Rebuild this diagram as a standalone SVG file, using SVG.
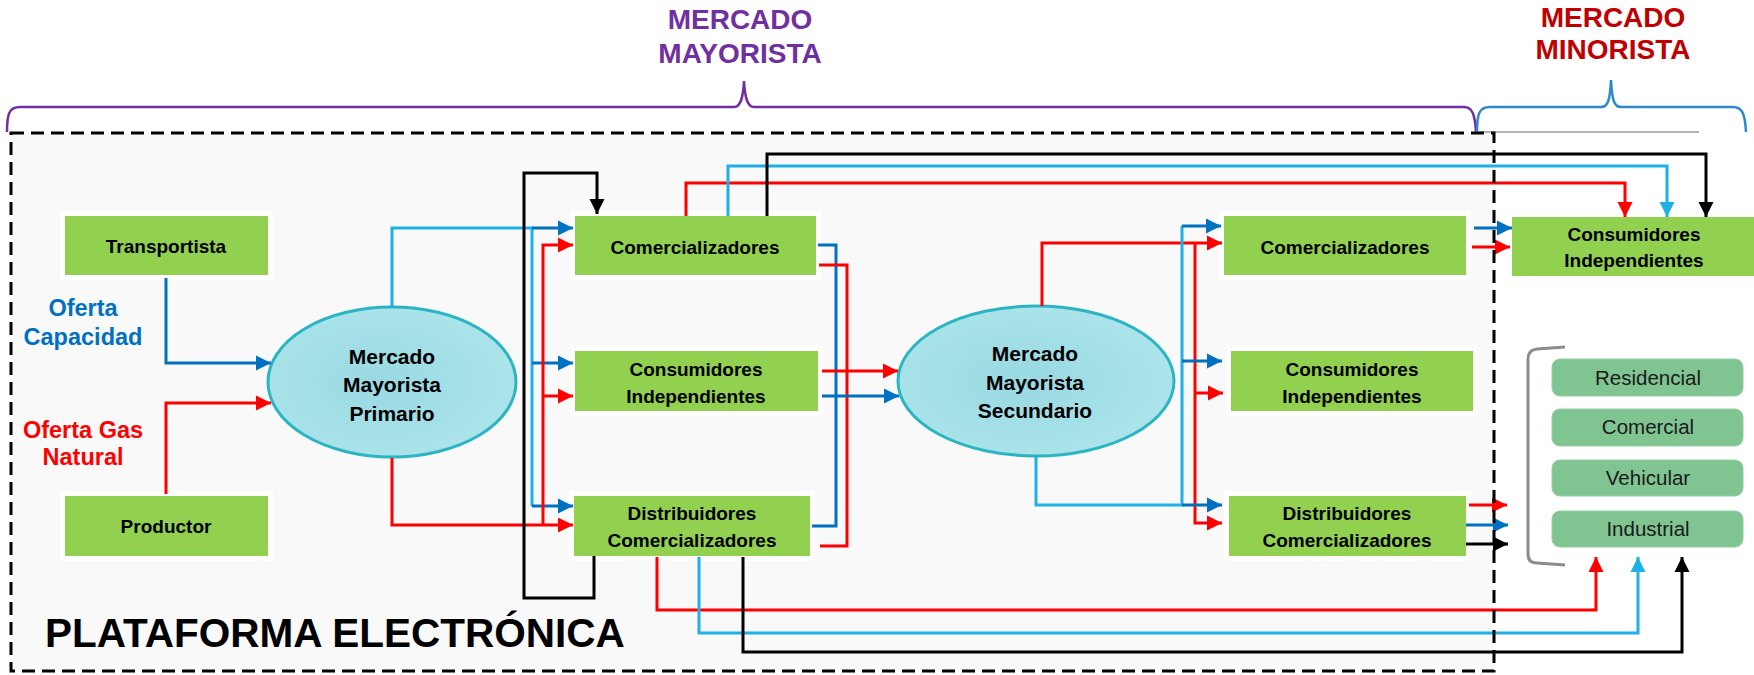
<svg xmlns="http://www.w3.org/2000/svg" width="1754" height="675" viewBox="0 0 1754 675">
<style>
.halo{fill:#ffffff}
.box{fill:#92D050}
.lbl{font-family:"Liberation Sans",Arial,sans-serif;font-weight:bold;font-size:19px;fill:#000;text-anchor:middle}
.elbl{font-size:21px}
.ell{fill:url(#eg);stroke:#2BB5C2;stroke-width:3}
.seg{fill:#7FC491;stroke:#93CFA2;stroke-width:1}
.slbl{font-family:"Liberation Sans",Arial,sans-serif;font-size:20.5px;fill:#1a1a1a;text-anchor:middle}
.c{fill:none;stroke-width:3}
.B{stroke:#0070C0}.L{stroke:#1FB0E6}.R{stroke:#FF0000}.K{stroke:#000000}
.title{font-family:"Liberation Sans",Arial,sans-serif;font-weight:bold;font-size:28px;text-anchor:middle}
.of{font-family:"Liberation Sans",Arial,sans-serif;font-weight:bold;font-size:23.5px;text-anchor:middle}
</style>
<defs>
<radialGradient id="eg" cx="0.45" cy="0.5" r="0.6">
<stop offset="0" stop-color="#98D9E2"/>
<stop offset="1" stop-color="#AEE5EB"/>
</radialGradient>
<marker id="mB" markerUnits="userSpaceOnUse" markerWidth="16" markerHeight="16" viewBox="0 0 16 16" refX="15" refY="8" orient="auto"><path d="M0,0.5 L15,8 L0,15.5 z" fill="#0070C0"/></marker>
<marker id="mL" markerUnits="userSpaceOnUse" markerWidth="16" markerHeight="16" viewBox="0 0 16 16" refX="15" refY="8" orient="auto"><path d="M0,0.5 L15,8 L0,15.5 z" fill="#1FB0E6"/></marker>
<marker id="mR" markerUnits="userSpaceOnUse" markerWidth="16" markerHeight="16" viewBox="0 0 16 16" refX="15" refY="8" orient="auto"><path d="M0,0.5 L15,8 L0,15.5 z" fill="#FF0000"/></marker>
<marker id="mK" markerUnits="userSpaceOnUse" markerWidth="16" markerHeight="16" viewBox="0 0 16 16" refX="15" refY="8" orient="auto"><path d="M0,0.5 L15,8 L0,15.5 z" fill="#000000"/></marker>
</defs>
<rect width="1754" height="675" fill="#ffffff"/>
<rect x="11" y="133" width="1483" height="538" fill="#F9F9F9"/>

<g id="headers">
<text class="title" x="740" y="29" fill="#7030A0">MERCADO</text>
<text class="title" x="740" y="63" fill="#7030A0">MAYORISTA</text>
<text class="title" x="1613" y="27" fill="#C00000">MERCADO</text>
<text class="title" x="1613" y="59" fill="#C00000">MINORISTA</text>
<path d="M7,132 C7,114 9,107 20,107 L734,107 C740,107 743,100 744,81 C745,100 748,107 754,107 L1464,107 C1472,107 1475,114 1476,132" fill="none" stroke="#7030A0" stroke-width="2.5"/>
<path d="M1477,132 C1477,114 1479,107 1490,107 L1601,107 C1608,107 1610,100 1611,80 C1612,100 1614,107 1621,107 L1733,107 C1742,107 1745,113 1746,132" fill="none" stroke="#2F88CC" stroke-width="2.5"/>
<path d="M1476,132 H1699" stroke="#9A9A9A" stroke-width="1.5"/>
</g>

<g id="oferta-labels">
<text class="of" x="83" y="316" fill="#0070C0">Oferta</text>
<text class="of" x="83" y="345" fill="#0070C0">Capacidad</text>
<text class="of" x="83" y="438" fill="#FF0000">Oferta Gas</text>
<text class="of" x="83" y="465" fill="#FF0000">Natural</text>
</g>

<g id="n-transportista">
<rect class="halo" x="60" y="211" width="213" height="69"/>
<rect class="box" x="65" y="216" width="203" height="59"/>
<text class="lbl" x="166" y="253">Transportista</text>
</g>
<g id="n-productor">
<rect class="halo" x="60" y="491" width="213" height="70"/>
<rect class="box" x="65" y="496" width="203" height="60"/>
<text class="lbl" x="166" y="533">Productor</text>
</g>
<g id="n-primario">
<ellipse class="ell" cx="392" cy="382" rx="124" ry="75"/>
<text class="lbl elbl" x="392" y="364">Mercado</text>
<text class="lbl elbl" x="392" y="392">Mayorista</text>
<text class="lbl elbl" x="392" y="421">Primario</text>
</g>
<g id="n-com1">
<rect class="halo" x="570" y="211" width="251" height="69"/>
<rect class="box" x="575" y="216" width="241" height="59"/>
<text class="lbl" x="695" y="254">Comercializadores</text>
</g>
<g id="n-cons1">
<rect class="halo" x="570" y="346" width="253" height="70"/>
<rect class="box" x="575" y="351" width="243" height="60"/>
<text class="lbl" x="696" y="376">Consumidores</text>
<text class="lbl" x="696" y="403">Independientes</text>
</g>
<g id="n-dist1">
<rect class="halo" x="569" y="491" width="246" height="70"/>
<rect class="box" x="574" y="496" width="236" height="60"/>
<text class="lbl" x="692" y="520">Distribuidores</text>
<text class="lbl" x="692" y="547">Comercializadores</text>
</g>
<g id="n-secundario">
<ellipse class="ell" cx="1036" cy="381" rx="138" ry="75"/>
<text class="lbl elbl" x="1035" y="361">Mercado</text>
<text class="lbl elbl" x="1035" y="390">Mayorista</text>
<text class="lbl elbl" x="1035" y="418">Secundario</text>
</g>
<g id="n-com2">
<rect class="halo" x="1219" y="211" width="252" height="69"/>
<rect class="box" x="1224" y="216" width="242" height="59"/>
<text class="lbl" x="1345" y="254">Comercializadores</text>
</g>
<g id="n-cons2">
<rect class="halo" x="1226" y="346" width="252" height="70"/>
<rect class="box" x="1231" y="351" width="242" height="60"/>
<text class="lbl" x="1352" y="376">Consumidores</text>
<text class="lbl" x="1352" y="403">Independientes</text>
</g>
<g id="n-dist2">
<rect class="halo" x="1224" y="491" width="247" height="70"/>
<rect class="box" x="1229" y="496" width="237" height="60"/>
<text class="lbl" x="1347" y="520">Distribuidores</text>
<text class="lbl" x="1347" y="547">Comercializadores</text>
</g>
<g id="n-consR">
<rect class="box" x="1512" y="217" width="242" height="59"/>
<text class="lbl" x="1634" y="241">Consumidores</text>
<text class="lbl" x="1634" y="267">Independientes</text>
</g>
<g id="n-segmentos">
<path d="M1565,347 L1537,349 Q1528,350 1528,359 L1528,554 Q1528,563 1537,563 L1565,565" fill="none" stroke="#8C8C8C" stroke-width="3"/>
<g id="n-residencial"><rect class="seg" x="1552" y="359" width="191" height="37" rx="8"/><text class="slbl" x="1648" y="385">Residencial</text></g>
<g id="n-comercial"><rect class="seg" x="1552" y="409" width="191" height="37" rx="8"/><text class="slbl" x="1648" y="434">Comercial</text></g>
<g id="n-vehicular"><rect class="seg" x="1552" y="460" width="191" height="36" rx="8"/><text class="slbl" x="1648" y="485">Vehicular</text></g>
<g id="n-industrial"><rect class="seg" x="1552" y="511" width="191" height="36" rx="8"/><text class="slbl" x="1648" y="536">Industrial</text></g>
</g>

<g id="connectors">
<path class="c B" d="M166,278 V363 H271" marker-end="url(#mB)"/>
<path class="c R" d="M166,494 V403 H271" marker-end="url(#mR)"/>
<path class="c L" d="M392,307 V228 H532 V506"/>
<path class="c B" d="M532,228 H573" marker-end="url(#mB)"/>
<path class="c B" d="M532,363 H573" marker-end="url(#mB)"/>
<path class="c B" d="M532,506 H573" marker-end="url(#mB)"/>
<path class="c R" d="M392,458 V525 H573" marker-end="url(#mR)"/>
<path class="c R" d="M543,525 V245 H573" marker-end="url(#mR)"/>
<path class="c R" d="M543,396 H573" marker-end="url(#mR)"/>
<path class="c K" d="M594,556 V598 H524 V173 H597 V214" marker-end="url(#mK)"/>
<path class="c R" d="M686,216 V183 H1625 V217" marker-end="url(#mR)"/>
<path class="c L" d="M728,216 V166 H1667 V217" marker-end="url(#mL)"/>
<path class="c K" d="M767,216 V154 H1706 V217" marker-end="url(#mK)"/>
<path class="c B" d="M818,245 H836 V526 H812"/>
<path class="c R" d="M819,265 H847 V546 H820"/>
<path class="c R" d="M822,371 H898" marker-end="url(#mR)"/>
<path class="c B" d="M822,396 H899" marker-end="url(#mB)"/>
<path class="c R" d="M1042,306 V243 H1222" marker-end="url(#mR)"/>
<path class="c R" d="M1195,243 V523 H1222" marker-end="url(#mR)"/>
<path class="c R" d="M1195,393 H1223" marker-end="url(#mR)"/>
<path class="c L" d="M1036,456 V505 H1182 V226"/>
<path class="c B" d="M1182,226 H1221" marker-end="url(#mB)"/>
<path class="c B" d="M1182,361 H1222" marker-end="url(#mB)"/>
<path class="c B" d="M1182,505 H1222" marker-end="url(#mB)"/>
<path class="c B" d="M1474,228 H1512" marker-end="url(#mB)"/>
<path class="c R" d="M1472,247 H1510" marker-end="url(#mR)"/>
<path class="c R" d="M1469,505 H1507" marker-end="url(#mR)"/>
<path class="c B" d="M1466,525 H1508" marker-end="url(#mB)"/>
<path class="c K" d="M1466,544 H1508" marker-end="url(#mK)"/>
<path class="c R" d="M657,557 V610 H1596 V557" marker-end="url(#mR)"/>
<path class="c L" d="M699,557 V633 H1638 V557" marker-end="url(#mL)"/>
<path class="c K" d="M743,557 V652 H1682 V557" marker-end="url(#mK)"/>
</g>

<g id="plataforma">
<rect x="11" y="133" width="1483" height="538" fill="none" stroke="#000" stroke-width="3" stroke-dasharray="13 7"/>
<text x="45" y="647" font-family="'Liberation Sans',Arial,sans-serif" font-weight="bold" font-size="40.5" fill="#000">PLATAFORMA ELECTRÓNICA</text>
</g>
</svg>
